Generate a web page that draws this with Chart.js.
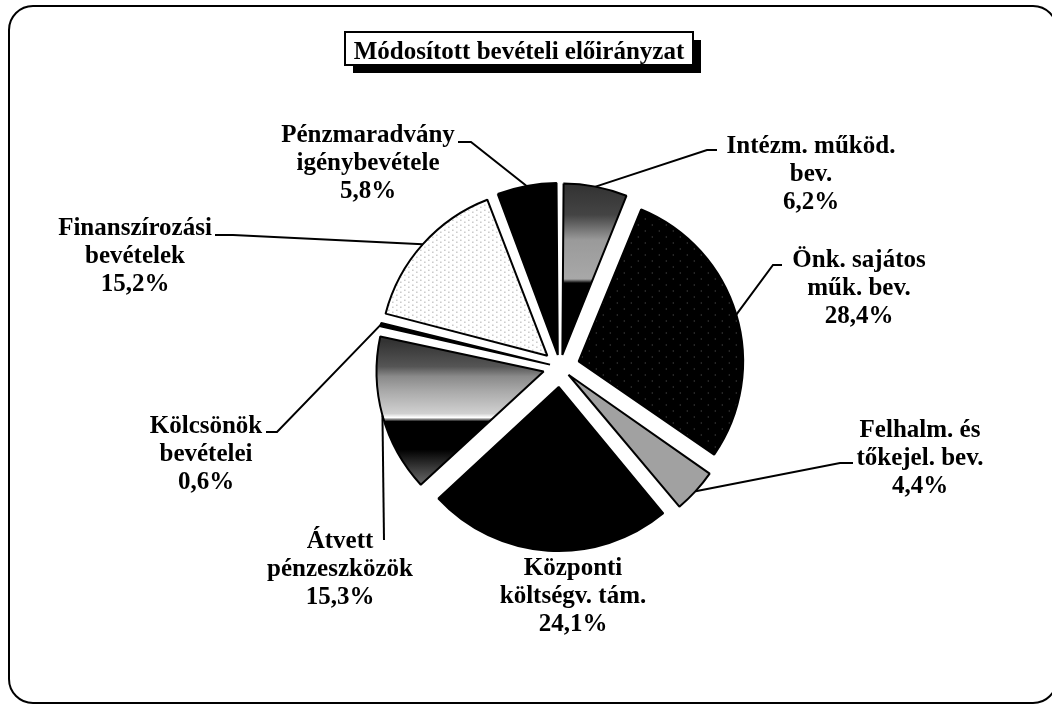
<!DOCTYPE html>
<html>
<head>
<meta charset="utf-8">
<script src="https://cdn.jsdelivr.net/npm/chart.js@4.4.0/dist/chart.umd.min.js"></script>
<style>
html, body { margin: 0; padding: 0; background: #fff; overflow: hidden; }
#frame { position: absolute; left: 8px; top: 5px; width: 1050px; height: 699px; border: 2px solid #000; border-radius: 25px; box-sizing: border-box; }
canvas { position: absolute; left: 0; top: 0; }
</style>
</head>
<body>
<div id="frame"></div>
<canvas id="pieChart" width="1052" height="704"></canvas>
<script>
//========== data ==========//
const chartTitle = 'Módosított bevételi előirányzat';
const categories = [
    'Intézm. működ. bev.',
    'Önk. sajátos műk. bev.',
    'Felhalm. és tőkejel. bev.',
    'Központi költségv. tám.',
    'Átvett pénzeszközök',
    'Kölcsönök bevételei',
    'Finanszírozási bevételek',
    'Pénzmaradvány igénybevétele'
];
const labelNames = [
    ['Intézm. működ.', 'bev.'],
    ['Önk. sajátos', 'műk. bev.'],
    ['Felhalm. és', 'tőkejel. bev.'],
    ['Központi', 'költségv. tám.'],
    ['Átvett', 'pénzeszközök'],
    ['Kölcsönök', 'bevételei'],
    ['Finanszírozási', 'bevételek'],
    ['Pénzmaradvány', 'igénybevétele']
];
const shares = [6.2, 28.4, 4.4, 24.1, 15.3, 0.6, 15.2, 5.8];

//========== layout of the labels ==========//
// text centre x, first baseline y, leader line points (text side first)
const labelPos = [
    { x: 811, y: 153, line: [[717, 150], [707, 150]] },
    { x: 859, y: 267, line: [[782, 265], [773, 265]] },
    { x: 920, y: 437, line: [[853, 463], [840, 463]] },
    { x: 573, y: 575, line: [] },
    { x: 340, y: 548, line: [[384, 540]] },
    { x: 206, y: 433, line: [[266, 432], [277, 432]] },
    { x: 135, y: 235, line: [[215, 235], [233, 235]] },
    { x: 368, y: 142, line: [[458, 142], [471, 142]] }
];
// explode amount per slice (Chart.js moves an arc by offset / 4)
const sliceOffsets = [49, 78, 46, 80, 68, 41, 68, 49];

//========== fills ==========//
function makePattern(w, h, bg, fg, dots) {
    const c = document.createElement('canvas');
    c.width = w; c.height = h;
    const g = c.getContext('2d');
    g.fillStyle = bg;
    g.fillRect(0, 0, w, h);
    g.fillStyle = fg;
    dots.forEach(d => g.fillRect(d[0], d[1], 1, 1));
    return g.createPattern(c, 'repeat');
}
const ctx0 = document.getElementById('pieChart').getContext('2d');
const dotsBlack = makePattern(14, 12, '#000', '#666', [[3, 2], [10, 8]]);
const halftone = makePattern(2, 2, '#fff', '#444', [[0, 0], [1, 1]]);
const lightDots = makePattern(8, 5, '#fff', '#888', [[1, 1], [5, 3]]);

function bandFill(chart, stops) {
    const area = chart.chartArea;
    if (!area) return '#666';
    const cy = (area.top + area.bottom) / 2;
    const g = chart.ctx.createLinearGradient(0, cy - 190, 0, cy + 190);
    stops.forEach(s => g.addColorStop((s[0] + 190) / 380, s[1]));
    return g;
}
const fills = [
    [[-185, '#2a2a2a'], [-140, '#444'], [-115, '#9a9a9a'], [-76, '#a8a8a8'], [-72, '#000'], [0, '#000']],
    dotsBlack,
    halftone,
    '#000',
    [[-30, '#333'], [-5, '#555'], [5, '#8a8a8a'], [20, '#aaa'], [42, '#d0d0d0'], [46, '#fff'], [50, '#000'], [78, '#000'], [100, '#444'], [118, '#777']],
    '#000',
    lightDots,
    '#000'
];
function sliceFill(c) {
    const f = fills[c.dataIndex];
    return Array.isArray(f) ? bandFill(c.chart, f) : f;
}

//========== plugins ==========//
const titleBox = {
    id: 'titleBox',
    afterDraw(chart) {
        const c = chart.ctx;
        c.save();
        c.fillStyle = '#000';
        c.fillRect(353, 40, 348, 33);
        c.fillStyle = '#fff';
        c.fillRect(345, 32, 348, 33);
        c.lineWidth = 2;
        c.strokeStyle = '#000';
        c.strokeRect(345, 32, 348, 33);
        c.fillStyle = '#000';
        c.font = 'bold 25px "Liberation Serif"';
        c.textAlign = 'center';
        c.textBaseline = 'alphabetic';
        c.fillText(chartTitle, 519, 59);
        c.restore();
    }
};

const sliceLabels = {
    id: 'sliceLabels',
    afterDraw(chart) {
        const c = chart.ctx;
        const meta = chart.getDatasetMeta(0);
        c.save();
        c.fillStyle = '#000';
        c.strokeStyle = '#000';
        c.lineWidth = 2;
        c.font = 'bold 25px "Liberation Serif"';
        c.textAlign = 'center';
        c.textBaseline = 'alphabetic';
        meta.data.forEach((arc, i) => {
            const p = labelPos[i];
            const lines = labelNames[i].concat([shares[i].toFixed(1).replace('.', ',') + '%']);
            lines.forEach((t, k) => c.fillText(t, p.x, p.y + k * 28));
            if (!p.line.length) return;
            const mid = (arc.startAngle + arc.endAngle) / 2;
            const t = (arc.options.offset || 0) / 4;
            const fix = 1 - Math.sin(Math.min(Math.PI, arc.circumference));
            const r = arc.outerRadius + t + t * fix;
            c.beginPath();
            c.moveTo(p.line[0][0], p.line[0][1]);
            p.line.slice(1).forEach(q => c.lineTo(q[0], q[1]));
            c.lineTo(arc.x + Math.cos(mid) * r, arc.y + Math.sin(mid) * r);
            c.stroke();
        });
        c.restore();
    }
};

//========== config pieChart ==========//
const datapie = {
    labels: categories,
    datasets: [{
        data: shares,
        backgroundColor: sliceFill,
        borderColor: '#000',
        borderWidth: 2,
        offset: sliceOffsets
    }]
};

const configpie = {
    type: 'pie',
    data: datapie,
    options: {
        responsive: false,
        animation: false,
        radius: 164,
        layout: { padding: { left: 68, top: 30, right: 0, bottom: 0 } },
        plugins: {
            legend: { display: false },
            tooltip: { enabled: false }
        }
    },
    plugins: [sliceLabels, titleBox]
};

// render pieChart
const pieChart = new Chart(document.getElementById('pieChart'), configpie);
</script>
</body>
</html>
